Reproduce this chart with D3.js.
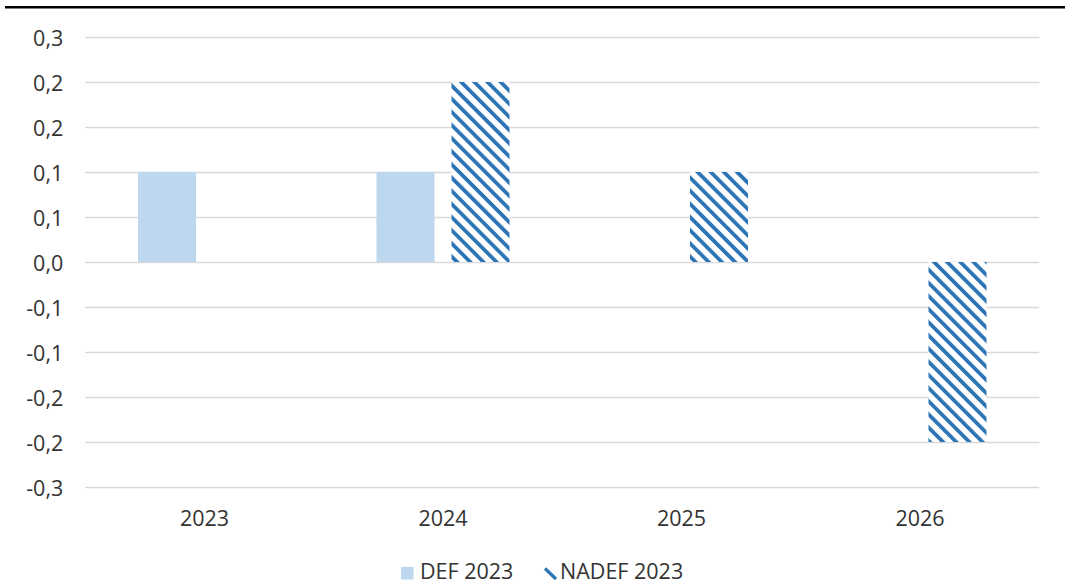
<!DOCTYPE html>
<html>
<head>
<meta charset="utf-8">
<script src="https://cdn.jsdelivr.net/npm/d3@7"></script>
<style>
  body { margin: 0; background: #fff; }
  text { font-family: "Open Sans", sans-serif; }
</style>
</head>
<body>
<div id="chart"></div>
<script>
// values
const years = ["2023", "2024", "2025", "2026"];
const seriesNames = ["DEF 2023", "NADEF 2023"];
const def2023 = [0.1, 0.1, null, null];
const nadef2023 = [null, 0.2, 0.1, -0.2];
const yTickValues = [-0.25, -0.2, -0.15, -0.1, -0.05, 0, 0.05, 0.1, 0.15, 0.2, 0.25];
const yTickLabels = ["-0,3", "-0,2", "-0,2", "-0,1", "-0,1", "0,0", "0,1", "0,1", "0,2", "0,2", "0,3"];

const width = 1065, height = 584;
const plotLeft = 85.25, plotRight = 1039.25, plotTop = 37, plotBottom = 487;
const textColor = "#333333";
const hatchColor = "#2e75b6";
const lightBlue = "#bdd7ee";
const fontSize = "21.5px";

const svg = d3.select("#chart")
  .append("svg")
  .attr("width", width)
  .attr("height", height);

// hatch pattern for the NADEF bars
const defs = svg.append("defs");
const pattern = defs.append("pattern")
  .attr("id", "hatch")
  .attr("patternUnits", "userSpaceOnUse")
  .attr("width", 9.3)
  .attr("height", 9.3)
  .attr("patternTransform", "rotate(-45)");
pattern.append("rect")
  .attr("width", 9.3).attr("height", 9.3).attr("fill", "#fff");
pattern.append("rect")
  .attr("x", 0).attr("y", 0)
  .attr("width", 3.8).attr("height", 9.3)
  .attr("fill", hatchColor);

// top border line
svg.append("line")
  .attr("x1", 5).attr("x2", width)
  .attr("y1", 7.3).attr("y2", 7.3)
  .attr("stroke", "#000")
  .attr("stroke-width", 2.6);

const y = d3.scaleLinear().domain([-0.25, 0.25]).range([plotBottom, plotTop]);
const x0 = d3.scaleBand().domain(years).range([plotLeft, plotRight])
  .paddingInner(0.4423).paddingOuter(0.2212);
const x1 = d3.scaleBand().domain(seriesNames).range([0, x0.bandwidth()])
  .paddingInner(0.2267);

// y axis with gridlines
const yAxis = svg.append("g")
  .attr("transform", `translate(${plotLeft},0)`)
  .call(d3.axisLeft(y)
    .tickValues(yTickValues)
    .tickFormat((d, i) => yTickLabels[i])
    .tickSize(-(plotRight - plotLeft))
    .tickPadding(22));
yAxis.select(".domain").remove();
yAxis.selectAll(".tick line")
  .attr("stroke", "#d9d9d9")
  .attr("stroke-width", 1.5);
yAxis.selectAll(".tick text")
  .attr("font-size", fontSize)
  .attr("fill", textColor)
  .attr("dy", "0.38em")
  .style("font-family", "'Open Sans', sans-serif");

// bars
const rows = years.map((yr, i) => ({ year: yr, values: [def2023[i], nadef2023[i]] }));
const groups = svg.append("g").selectAll("g")
  .data(rows)
  .join("g")
  .attr("transform", d => `translate(${x0(d.year)},0)`);

groups.selectAll("rect")
  .data(d => d.values.map((v, j) => ({ key: seriesNames[j], value: v })).filter(d => d.value !== null))
  .join("rect")
  .attr("x", d => x1(d.key))
  .attr("width", x1.bandwidth())
  .attr("y", d => y(Math.max(0, d.value)))
  .attr("height", d => Math.abs(y(d.value) - y(0)))
  .attr("fill", d => d.key === "DEF 2023" ? lightBlue : "url(#hatch)");

// x axis labels
const xAxis = svg.append("g")
  .attr("transform", `translate(0,${plotBottom})`)
  .call(d3.axisBottom(x0).tickSize(0).tickPadding(24));
xAxis.select(".domain").remove();
xAxis.selectAll(".tick text")
  .attr("font-size", fontSize)
  .attr("fill", textColor)
  .style("font-family", "'Open Sans', sans-serif");

// legend
const legend = svg.append("g");
legend.append("rect")
  .attr("x", 401).attr("y", 567)
  .attr("width", 12.5).attr("height", 12.5)
  .attr("fill", lightBlue);
legend.append("text")
  .attr("x", 420).attr("y", 578.5)
  .attr("font-size", fontSize)
  .attr("fill", textColor)
  .text(seriesNames[0]);

// the hatch key is just one diagonal stroke
legend.append("line")
  .attr("x1", 545).attr("y1", 568.5)
  .attr("x2", 556).attr("y2", 579)
  .attr("stroke", hatchColor)
  .attr("stroke-width", 3.2);
legend.append("text")
  .attr("x", 560).attr("y", 578.5)
  .attr("font-size", fontSize)
  .attr("fill", textColor)
  .text(seriesNames[1]);
</script>
</body>
</html>
